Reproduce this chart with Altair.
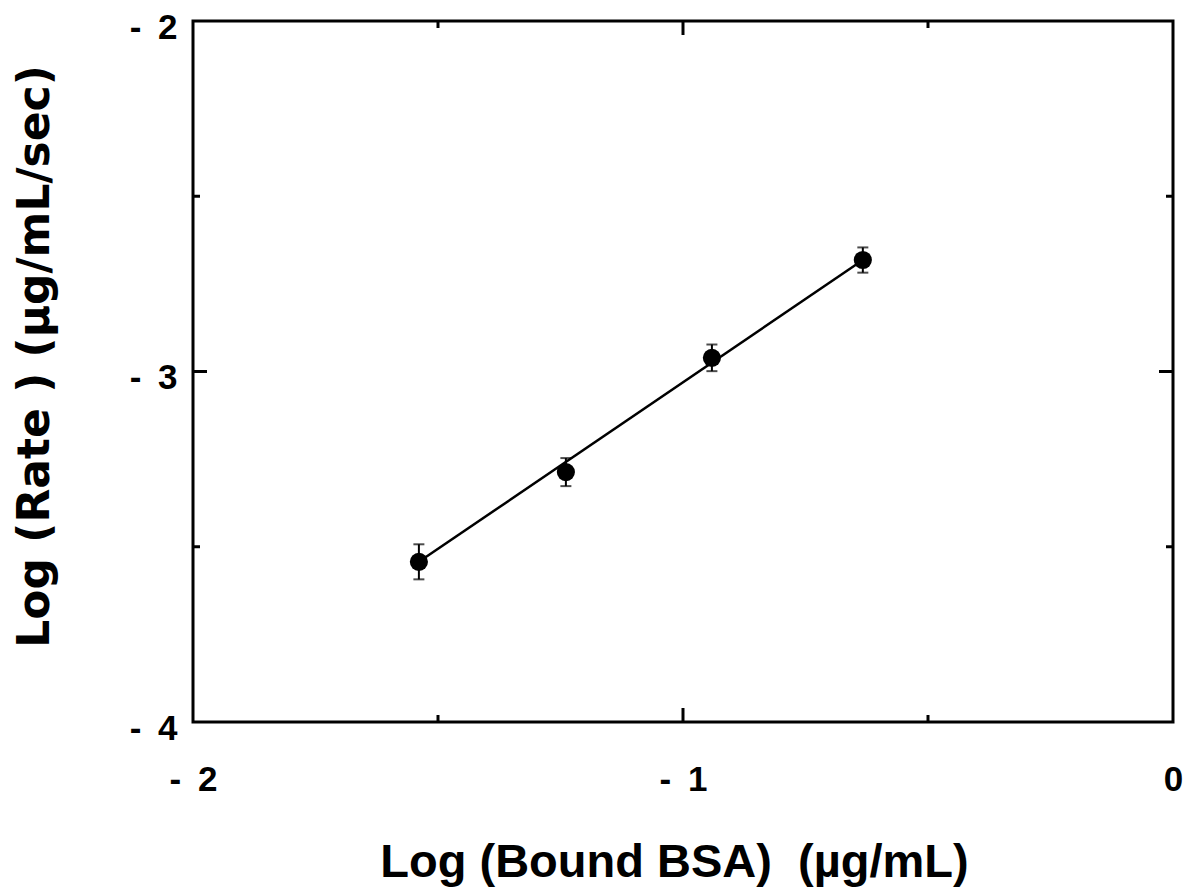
import altair as alt
import pandas as pd

# Measured points: log(bound BSA) vs log(rate), with error bar half-widths
log_bsa = [-1.539, -1.239, -0.941, -0.633]
log_rate = [-3.543, -3.287, -2.961, -2.682]
rate_err = [0.050, 0.040, 0.038, 0.036]

# Fitted line end points
fit_x = [-1.539, -0.633]
fit_y = [-3.543, -2.682]

# Tick positions
x_major = [-1.0]
x_minor = [-1.5, -0.5]
y_major = [-3.0]
y_minor = [-2.5, -3.5]
x_labels = [-2, -1, 0]
y_labels = [-2, -3, -4]

W, H = 980, 701
FONT = "Liberation Sans"
WIDE = "DejaVu Sans"
NB = "\u00a0"

pts = pd.DataFrame({"x": log_bsa, "y": log_rate, "e": rate_err})
pts["lo"] = pts["y"] - pts["e"]
pts["hi"] = pts["y"] + pts["e"]
fit = pd.DataFrame({"x": fit_x, "y": fit_y})

xscale = alt.Scale(domain=[-2, 0], nice=False, zero=False)
yscale = alt.Scale(domain=[-4, -2], nice=False, zero=False)

label_expr = "datum.value < 0 ? '-\u00a0\u2009' + abs(datum.value) : '' + datum.value"

x_axis = alt.Axis(
    values=x_labels, labelExpr=label_expr, tickSize=0, domain=False, grid=False,
    labelFont=FONT, labelFontSize=35, labelFontWeight="bold", labelColor="black",
    labelPadding=40, labelFlush=False,
    title="Log (Bound BSA)" + NB + NB + "(\u00b5g/mL)", titleFont=FONT, titleFontSize=47,
    titleFontWeight="bold", titleColor="black", titleX=481, titleY=140,
    titleBaseline="middle",
)
y_axis = alt.Axis(
    values=y_labels, labelExpr=label_expr, tickSize=0, domain=False, grid=False,
    labelFont=FONT, labelFontSize=35, labelFontWeight="bold", labelColor="black",
    labelPadding=16, labelFlush=False, labelBaseline="middle", labelOffset=6,
    title="Log (Rate ) (\u00b5g/mL/sec)", titleFont=WIDE, titleFontSize=44,
    titleFontWeight="bold", titleColor="black", titleX=-158, titleY=335,
    titleBaseline="middle",
)

base = alt.Chart(pts)

line = alt.Chart(fit).mark_line(color="black", strokeWidth=2.5).encode(
    x=alt.X("x:Q", scale=xscale, axis=x_axis),
    y=alt.Y("y:Q", scale=yscale, axis=y_axis),
)

bars = base.mark_rule(color="black", strokeWidth=2).encode(
    x=alt.X("x:Q", scale=xscale),
    y=alt.Y("lo:Q", scale=yscale),
    y2="hi:Q",
)
caps_lo = base.mark_tick(color="black", orient="horizontal", size=11, thickness=2).encode(
    x=alt.X("x:Q", scale=xscale), y=alt.Y("lo:Q", scale=yscale)
)
caps_hi = base.mark_tick(color="black", orient="horizontal", size=11, thickness=2).encode(
    x=alt.X("x:Q", scale=xscale), y=alt.Y("hi:Q", scale=yscale)
)
dots = base.mark_point(filled=True, color="black", opacity=1, size=330, shape="circle").encode(
    x=alt.X("x:Q", scale=xscale), y=alt.Y("y:Q", scale=yscale)
)


def xticks(vals, length):
    d = pd.DataFrame({"x": vals})
    bottom = alt.Chart(d).mark_rule(color="black", strokeWidth=3).encode(
        x=alt.X("x:Q", scale=xscale), y=alt.value(H), y2=alt.value(H - length)
    )
    top = alt.Chart(d).mark_rule(color="black", strokeWidth=3).encode(
        x=alt.X("x:Q", scale=xscale), y=alt.value(0), y2=alt.value(length)
    )
    return bottom + top


def yticks(vals, length):
    d = pd.DataFrame({"y": vals})
    left = alt.Chart(d).mark_rule(color="black", strokeWidth=3).encode(
        y=alt.Y("y:Q", scale=yscale), x=alt.value(0), x2=alt.value(length)
    )
    right = alt.Chart(d).mark_rule(color="black", strokeWidth=3).encode(
        y=alt.Y("y:Q", scale=yscale), x=alt.value(W), x2=alt.value(W - length)
    )
    return left + right


chart = alt.layer(
    line, bars, caps_lo, caps_hi, dots,
    xticks(x_major, 14), xticks(x_minor, 7),
    yticks(y_major, 14), yticks(y_minor, 7),
).properties(
    width=W, height=H,
    autosize=alt.AutoSizeParams(type="none"),
    padding={"left": 193, "top": 21, "right": 14, "bottom": 168},
    background="white",
).configure_view(
    stroke="black", strokeWidth=3, fill="white"
)

chart.save("out.html", embed_options={"renderer": "svg", "actions": False})
